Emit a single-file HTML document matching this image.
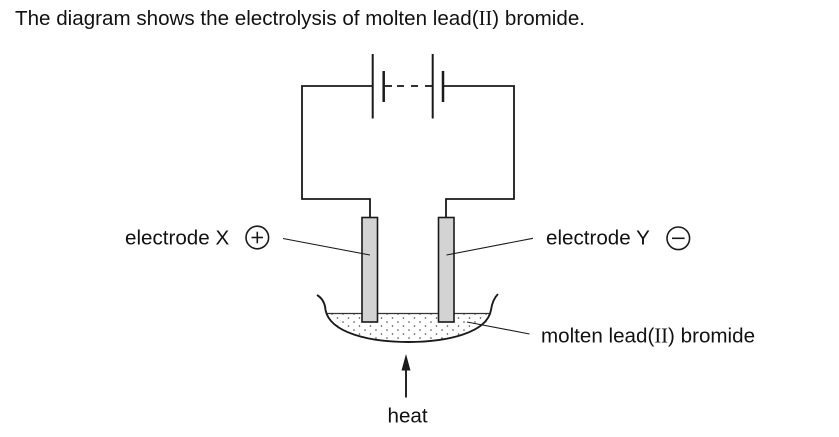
<!DOCTYPE html>
<html>
<head>
<meta charset="utf-8">
<style>
  html, body { margin:0; padding:0; background:#fff; }
  body { width:839px; height:437px; overflow:hidden; }
  svg { display:block; }
  text { font-family: "Liberation Sans", Arial, sans-serif; font-size:20.6px; fill:#111; }
  .serif { font-family: "Liberation Serif", "Times New Roman", serif; }
</style>
</head>
<body>
<svg width="839" height="437" viewBox="0 0 839 437" xmlns="http://www.w3.org/2000/svg">
  <defs>
    <pattern id="dots" x="0" y="0" width="11" height="8" patternUnits="userSpaceOnUse">
      <circle cx="2" cy="2" r="0.8" fill="#444"/>
      <circle cx="7.5" cy="6" r="0.8" fill="#444"/>
    </pattern>
  </defs>

  <!-- Title -->
  <text x="15" y="25">The diagram shows the electrolysis of molten lead(<tspan class="serif">II</tspan>) bromide.</text>

  <!-- Circuit wires -->
  <g fill="none" stroke="#1a1a1a" stroke-width="1.8" stroke-linejoin="miter">
    <path d="M370,217.5 L370,199 L302,199 L302,86 L372.7,86"/>
    <path d="M443,86 L514,86 L514,199 L446,199 L446,217.5"/>
  </g>

  <!-- Battery -->
  <g stroke="#1a1a1a" fill="none">
    <line x1="372.7" y1="54" x2="372.7" y2="118.5" stroke-width="2"/>
    <line x1="383.7" y1="71" x2="383.7" y2="102" stroke-width="2.5"/>
    <line x1="432.7" y1="54" x2="432.7" y2="118.5" stroke-width="2"/>
    <line x1="443" y1="71" x2="443" y2="102" stroke-width="2.5"/>
    <g stroke-width="1.8">
      <line x1="385" y1="86" x2="392" y2="86"/>
      <line x1="397" y1="86" x2="404" y2="86"/>
      <line x1="411" y1="86" x2="418" y2="86"/>
      <line x1="425" y1="86" x2="432" y2="86"/>
    </g>
  </g>

  <!-- Liquid fill -->
  <path d="M326,313.5 C332,333 372,342 408,342 C447,342 487,333 491,313.5 Z" fill="url(#dots)" stroke="none"/>
  <!-- Liquid surface -->
  <line x1="326" y1="313.5" x2="491" y2="313.5" stroke="#333" stroke-width="1.2"/>

  <!-- Dish -->
  <path d="M317,295 C322,298 325,303 325.5,310 C330,333 370,342 408,342 C447,342 487,333 491,310 C492,303 494,298 498,294"
        fill="none" stroke="#1a1a1a" stroke-width="1.9"/>

  <!-- Electrodes -->
  <rect x="362" y="217.5" width="15.5" height="104.5" fill="#d3d3d3" stroke="#1a1a1a" stroke-width="1.6"/>
  <rect x="438.5" y="217.5" width="15.5" height="104.5" fill="#d3d3d3" stroke="#1a1a1a" stroke-width="1.6"/>

  <!-- Label lines -->
  <g stroke="#1a1a1a" stroke-width="1.1">
    <line x1="283" y1="238.5" x2="370" y2="255"/>
    <line x1="446.5" y1="255" x2="533" y2="238.3"/>
    <line x1="467" y1="322" x2="529.5" y2="334"/>
  </g>

  <!-- Heat arrow -->
  <line x1="406" y1="397.5" x2="406" y2="366" stroke="#1a1a1a" stroke-width="1.9"/>
  <polygon points="406,354 401.5,370.5 410.5,370.5" fill="#1a1a1a"/>

  <!-- Labels -->
  <text x="125" y="244.5">electrode X</text>
  <circle cx="257.3" cy="237.5" r="11.3" fill="none" stroke="#1a1a1a" stroke-width="1.6"/>
  <line x1="251.5" y1="237.5" x2="263" y2="237.5" stroke="#1a1a1a" stroke-width="1.6"/>
  <line x1="257.3" y1="231.7" x2="257.3" y2="243.3" stroke="#1a1a1a" stroke-width="1.6"/>

  <text x="546" y="244.5">electrode Y</text>
  <circle cx="678.3" cy="238.3" r="11.3" fill="none" stroke="#1a1a1a" stroke-width="1.6"/>
  <line x1="672" y1="238.3" x2="684.6" y2="238.3" stroke="#1a1a1a" stroke-width="1.6"/>

  <text x="541" y="342.5">molten lead(<tspan class="serif">II</tspan>) bromide</text>

  <text x="387.5" y="422.7">heat</text>
</svg>
</body>
</html>
